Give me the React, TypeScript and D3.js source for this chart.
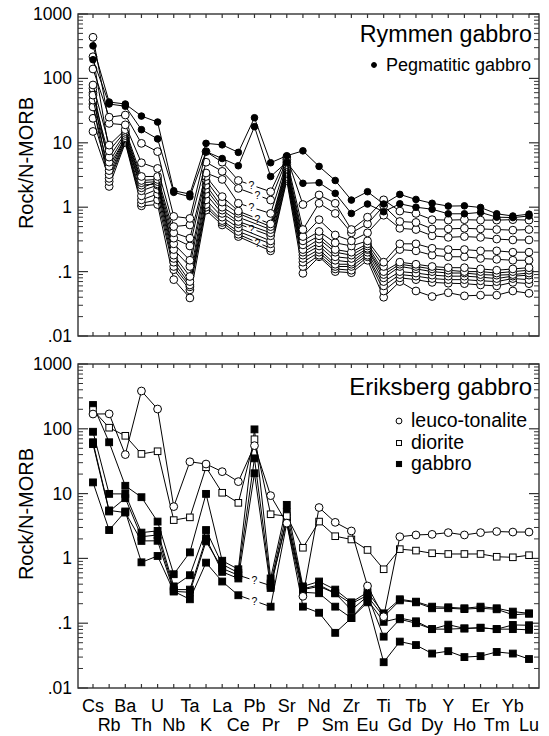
import React, { useEffect, useRef } from "react";
import * as d3 from "d3";

// element order along the x axis
const elements = ["Cs", "Rb", "Ba", "Th", "U", "Nb", "Ta", "K", "La", "Ce", "Pb", "Pr", "Sr", "P", "Nd", "Sm", "Zr", "Eu", "Ti", "Gd", "Tb", "Dy", "Y", "Ho", "Er", "Tm", "Yb", "Lu"];

const yTickValues = [0.01, 0.1, 1, 10, 100, 1000];
const yTickLabels = [".01", ".1", "1", "10", "100", "1000"];

// ---- Rymmen gabbro ----
const pegmatitic1 = [320, 43, 40, 26, 21, 1.8, 1.6, 9.8, 9.3, 7.1, 24.5, 4.9, 6.3, 7.5, 4.3, 2.6, 1.29, 1.74, 1.12, 1.58, 1.32, 1.15, 1.04, 1.05, 0.99, 0.79, 0.73, 0.78];
const pegmatitic2 = [195, 40, 37, 16, 11.5, 1.7, 1.45, 7.3, 5.7, 4.4, 17.8, 3.0, 5.0, 2.35, 2.4, 1.64, 0.8, 1.12, 0.85, 1.13, 1.0, 0.93, 0.79, 0.79, 0.83, 0.7, 0.69, 0.73];

const rymmen1 = [140, 25, 27, 9.8, 7.3, 0.72, 0.67, 7.3, 5.0, 2.6, null, 1.74, 6.0, 1.1, 1.55, 1.15, 0.45, 0.7, 1.3, 0.87, 0.8, 0.64, 0.63, 0.64, 0.63, 0.63, 0.64, 0.63];
const rymmen2 = [435, 20, 19, 4.9, 4.0, 0.5, 0.53, 5.0, 3.6, 1.96, null, 1.29, 5.5, 0.45, 1.15, 0.8, 0.4, 0.55, 1.05, 0.6, 0.58, 0.46, 0.46, 0.47, 0.46, 0.45, 0.44, 0.45];
const rymmen3 = [79, 9.2, 16, 3.0, 3.0, 0.4, 0.33, 3.4, 2.7, 1.15, null, 0.8, 5.0, 0.35, 0.64, 0.37, 0.3, 0.4, 0.75, 0.47, 0.45, 0.36, 0.34, 0.35, 0.34, 0.32, 0.31, 0.31];
const rymmen4 = [217, 7.5, 15, 2.6, 2.7, 0.33, 0.25, 3.0, 1.46, 0.87, null, 0.55, 4.6, 0.3, 0.42, 0.28, 0.25, 0.3, 0.14, 0.27, 0.27, 0.23, 0.22, 0.22, 0.21, 0.21, 0.2, 0.2];
const rymmen5 = [55, 6, 14, 2.4, 2.5, 0.27, 0.15, 2.6, 1.2, 0.8, null, 0.5, 4.3, 0.26, 0.36, 0.22, 0.2, 0.27, 0.12, 0.22, 0.21, 0.18, 0.17, 0.17, 0.16, 0.155, 0.15, 0.15];
const rymmen6 = [46, 5, 13, 2.2, 2.3, 0.22, 0.12, 2.2, 1.0, 0.7, null, 0.45, 4.0, 0.22, 0.32, 0.2, 0.18, 0.25, 0.1, 0.14, 0.13, 0.12, 0.115, 0.115, 0.11, 0.105, 0.11, 0.115];
const rymmen7 = [70, 4.3, 12, 2.0, 2.5, 0.18, 0.084, 1.9, 0.9, 0.6, null, 0.4, 3.8, 0.2, 0.28, 0.17, 0.16, 0.23, 0.09, 0.13, 0.12, 0.11, 0.105, 0.1, 0.1, 0.095, 0.1, 0.105];
const rymmen8 = [36, 3.7, 12, 1.8, 2.2, 0.16, 0.07, 1.6, 0.8, 0.55, null, 0.36, 3.5, 0.18, 0.25, 0.15, 0.14, 0.22, 0.08, 0.12, 0.11, 0.1, 0.095, 0.095, 0.09, 0.088, 0.09, 0.095];
const rymmen9 = [24, 3.2, 11.5, 1.5, 1.9, 0.14, 0.062, 1.3, 0.7, 0.48, null, 0.3, 3.3, 0.16, 0.22, 0.13, 0.13, 0.2, 0.07, 0.1, 0.095, 0.088, 0.085, 0.085, 0.082, 0.078, 0.085, 0.088];
const rymmen10 = [15, 2.8, 11, 1.3, 1.6, 0.12, 0.058, 1.1, 0.62, 0.42, null, 0.27, 3.0, 0.14, 0.2, 0.12, 0.12, 0.18, 0.06, 0.09, 0.085, 0.078, 0.075, 0.075, 0.072, 0.07, 0.078, 0.075];
const rymmen11 = [60, 2.5, 10.5, 1.15, 1.3, 0.107, 0.052, 1.0, 0.58, 0.38, null, 0.23, 2.8, 0.12, 0.18, 0.11, 0.105, 0.17, 0.05, 0.08, 0.075, 0.068, 0.066, 0.065, 0.062, 0.06, 0.068, 0.065];
const rymmen12 = [40, 2.1, 10, 1.05, 1.1, 0.075, 0.039, 0.9, 0.53, 0.35, null, 0.21, 2.6, 0.094, 0.17, 0.1, 0.096, 0.15, 0.04, 0.07, 0.05, 0.041, 0.047, 0.042, 0.043, 0.043, 0.05, 0.046];
// which Rymmen samples get a "?" where Pb is missing
const rymmenQuery = [true, true, true, true, false, false, false, true, false, false, true, false];

// ---- Eriksberg gabbro ----
const leucoTonalite = [169, 170, 40, 383, 202, 6.3, 31, 28.6, 21.8, 15.3, 55, 9.3, 3.5, 0.26, 6.1, 3.6, 2.65, 0.375, 0.126, 2.16, 2.3, 2.35, 2.5, 2.3, 2.5, 2.6, 2.55, 2.55];
const diorite = [195, 104, 78, 41, 45, 3.9, 4.3, 25.5, 10.3, 7.2, 69, 4.8, 4.5, 1.46, 3.7, 2.2, 1.96, 1.35, 0.68, 1.39, 1.32, 1.2, 1.17, 1.17, 1.17, 1.06, 1.04, 1.12];
const gabbro1 = [233, 62, 13.2, 8.8, 3.7, 0.57, 1.24, 9.9, 0.92, 0.68, 98, 0.49, 6.7, 0.37, 0.44, 0.33, 0.21, 0.3, 0.142, 0.234, 0.215, 0.18, 0.176, 0.17, 0.18, 0.17, 0.151, 0.142];
const gabbro2 = [90, 9.9, 9.9, 2.5, 2.66, 0.37, 0.55, 2.74, 0.81, 0.6, 35, 0.41, 5.2, 0.33, 0.37, 0.29, 0.16, 0.26, 0.126, 0.225, 0.21, 0.17, 0.17, 0.165, 0.17, 0.164, 0.135, 0.14];
const gabbro3 = [58, 5.3, 8.5, 2.16, 2.3, 0.33, 0.33, 2.04, 0.62, 0.49, 20.6, 0.35, 4.2, 0.3, 0.29, 0.18, 0.12, 0.23, 0.105, 0.12, 0.107, 0.081, 0.095, 0.083, 0.085, 0.081, 0.094, 0.093];
const gabbro4 = [62, 5.5, 5.1, 1.86, 1.87, 0.31, 0.3, 1.83, 0.7, 0.55, null, 0.38, 3.8, 0.34, 0.39, 0.29, 0.2, 0.27, 0.062, 0.115, 0.1, 0.081, 0.081, 0.083, 0.085, 0.081, 0.081, 0.079];
const gabbro5 = [14.9, 2.74, 5.3, 0.87, 1.09, 0.31, 0.234, 0.86, 0.44, 0.27, null, 0.18, 3.5, 0.18, 0.145, 0.071, 0.12, 0.21, 0.025, 0.052, 0.046, 0.034, 0.037, 0.03, 0.031, 0.036, 0.034, 0.028];

type Marker = "openCircle" | "filledCircle" | "openSquare" | "filledSquare";
type Series = { values: (number | null)[]; marker: Marker; query?: boolean; qShift?: number };

const FONT = "'Liberation Sans', Arial, Helvetica, sans-serif";
const LEFT = 78;
const RIGHT = 539;

function drawMarker(g: any, marker: Marker, cx: number, cy: number, size = 1) {
  if (marker === "openCircle" || marker === "filledCircle") {
    const filled = marker === "filledCircle";
    g.append("circle")
      .attr("cx", cx)
      .attr("cy", cy)
      .attr("r", (filled ? 3.3 : 3.9) * size)
      .attr("fill", filled ? "#000" : "#fff")
      .attr("stroke", "#000")
      .attr("stroke-width", 1);
  } else {
    const filled = marker === "filledSquare";
    const s = (filled ? 6.8 : 6.6) * size;
    g.append("rect")
      .attr("x", cx - s / 2)
      .attr("y", cy - s / 2)
      .attr("width", s)
      .attr("height", s)
      .attr("fill", filled ? "#000" : "#fff")
      .attr("stroke", "#000")
      .attr("stroke-width", 1);
  }
}

function drawPanel(svg: any, cfg: any) {
  const { y0, y1, series, title, titleSize, titleY, legend } = cfg;
  const x = d3.scalePoint<string>().domain(elements).range([93, 529]);
  const y = d3.scaleLog().domain([0.01, 1000]).range([y1, y0]);
  const g = svg.append("g");

  // frame
  g.append("rect")
    .attr("x", LEFT)
    .attr("y", y0)
    .attr("width", RIGHT - LEFT)
    .attr("height", y1 - y0)
    .attr("fill", "none")
    .attr("stroke", "#333")
    .attr("stroke-width", 1.4);

  // x ticks (inward, top and bottom)
  elements.forEach(e => {
    g.append("line").attr("x1", x(e)).attr("x2", x(e)).attr("y1", y0).attr("y2", y0 + 4).attr("stroke", "#333").attr("stroke-width", 1.2);
    g.append("line").attr("x1", x(e)).attr("x2", x(e)).attr("y1", y1).attr("y2", y1 - 4).attr("stroke", "#333").attr("stroke-width", 1.2);
  });

  // y ticks, major at decades, minor at 2..9
  yTickValues.forEach((d, i) => {
    const ty = y(d);
    g.append("line").attr("x1", LEFT).attr("x2", LEFT + 10).attr("y1", ty).attr("y2", ty).attr("stroke", "#333").attr("stroke-width", 1.2);
    g.append("line").attr("x1", RIGHT).attr("x2", RIGHT - 10).attr("y1", ty).attr("y2", ty).attr("stroke", "#333").attr("stroke-width", 1.2);
    g.append("text")
      .attr("x", 72)
      .attr("y", ty + 6)
      .attr("text-anchor", "end")
      .attr("font-family", FONT)
      .attr("font-size", 17.5)
      .text(yTickLabels[i]);
    if (d < 1000) {
      for (let k = 2; k <= 9; k++) {
        const my = y(d * k);
        g.append("line").attr("x1", LEFT).attr("x2", LEFT + 5).attr("y1", my).attr("y2", my).attr("stroke", "#333").attr("stroke-width", 1);
        g.append("line").attr("x1", RIGHT).attr("x2", RIGHT - 5).attr("y1", my).attr("y2", my).attr("stroke", "#333").attr("stroke-width", 1);
      }
    }
  });

  // y axis title
  const cy = (y0 + y1) / 2 - 12;
  g.append("text")
    .attr("transform", `translate(33,${cy}) rotate(-90)`)
    .attr("text-anchor", "middle")
    .attr("font-family", FONT)
    .attr("font-size", 20)
    .text("Rock/N-MORB");

  // series
  const line = d3.line<[number, number]>();
  series.forEach((s: Series) => {
    const pts: [number, number][] = [];
    s.values.forEach((v, i) => {
      if (v != null) pts.push([x(elements[i]) as number, y(v)]);
    });
    const gapIdx = s.values.findIndex(v => v == null);
    if (s.query && gapIdx > 0) {
      const a: [number, number] = [x(elements[gapIdx - 1]) as number, y(s.values[gapIdx - 1] as number)];
      const b: [number, number] = [x(elements[gapIdx + 1]) as number, y(s.values[gapIdx + 1] as number)];
      const xm = (x(elements[gapIdx]) as number) + (s.qShift || 0);
      const at = (xx: number): [number, number] => [xx, a[1] + ((b[1] - a[1]) * (xx - a[0])) / (b[0] - a[0])];
      const before = pts.filter(p => p[0] <= a[0]);
      const after = pts.filter(p => p[0] >= b[0]);
      g.append("path").attr("d", line([...before, at(xm - 5)])).attr("fill", "none").attr("stroke", "#000").attr("stroke-width", 1);
      g.append("path").attr("d", line([at(xm + 5), ...after])).attr("fill", "none").attr("stroke", "#000").attr("stroke-width", 1);
      g.append("text")
        .attr("x", xm)
        .attr("y", at(xm)[1] + 4)
        .attr("text-anchor", "middle")
        .attr("font-family", FONT)
        .attr("font-size", 10.5)
        .text("?");
    } else {
      g.append("path").attr("d", line(pts)).attr("fill", "none").attr("stroke", "#000").attr("stroke-width", 1);
    }
    pts.forEach(p => drawMarker(g, s.marker, p[0], p[1]));
  });

  // title
  g.append("text")
    .attr("x", 532)
    .attr("y", titleY)
    .attr("text-anchor", "end")
    .attr("font-family", FONT)
    .attr("font-size", titleSize)
    .text(title);

  // legend
  legend.forEach((l: any) => {
    drawMarker(g, l.marker, l.mx, l.y - 6, 0.75);
    g.append("text")
      .attr("x", l.mx + 12)
      .attr("y", l.y)
      .attr("font-family", FONT)
      .attr("font-size", l.size)
      .text(l.label);
  });

  return x;
}

export default function App() {
  const ref = useRef<SVGSVGElement>(null);

  useEffect(() => {
    const svg = d3.select(ref.current);
    svg.selectAll("*").remove();

    const rymmenOpen = [rymmen1, rymmen2, rymmen3, rymmen4, rymmen5, rymmen6, rymmen7, rymmen8, rymmen9, rymmen10, rymmen11, rymmen12];
    let qCount = 0;
    const openSeries: Series[] = rymmenOpen.map((v, i) => {
      const s: Series = { values: v, marker: "openCircle", query: rymmenQuery[i] };
      if (rymmenQuery[i]) {
        // stagger the "?" marks so neighbours do not collide
        s.qShift = qCount % 2 === 0 ? -3 : 3;
        qCount++;
      }
      return s;
    });
    const topSeries: Series[] = [
      ...openSeries.reverse(),
      { values: pegmatitic2, marker: "filledCircle" },
      { values: pegmatitic1, marker: "filledCircle" }
    ];

    drawPanel(svg, {
      y0: 14,
      y1: 336,
      series: topSeries,
      title: "Rymmen gabbro",
      titleSize: 23.3,
      titleY: 42,
      legend: [{ marker: "filledCircle", mx: 374, y: 71, label: "Pegmatitic gabbro", size: 18 }]
    });

    const bottomSeries: Series[] = [
      { values: gabbro5, marker: "filledSquare", query: true },
      { values: gabbro4, marker: "filledSquare", query: true },
      { values: gabbro3, marker: "filledSquare" },
      { values: gabbro2, marker: "filledSquare" },
      { values: gabbro1, marker: "filledSquare" },
      { values: diorite, marker: "openSquare" },
      { values: leucoTonalite, marker: "openCircle" }
    ];

    const x = drawPanel(svg, {
      y0: 364,
      y1: 688,
      series: bottomSeries,
      title: "Eriksberg gabbro",
      titleSize: 24,
      titleY: 395,
      legend: [
        { marker: "openCircle", mx: 399, y: 427, label: "leuco-tonalite", size: 19.5 },
        { marker: "openSquare", mx: 399, y: 449, label: "diorite", size: 19.5 },
        { marker: "filledSquare", mx: 399, y: 470, label: "gabbro", size: 19.5 }
      ]
    });

    // element labels in two staggered rows
    svg
      .append("g")
      .selectAll("text")
      .data(elements)
      .join("text")
      .attr("x", d => x(d) as number)
      .attr("y", (d, i) => (i % 2 === 0 ? 712 : 731))
      .attr("text-anchor", "middle")
      .attr("font-family", FONT)
      .attr("font-size", 18)
      .text(d => d);
  }, []);

  return (
    <svg
      ref={ref}
      width={549}
      height={736}
      style={{ position: "absolute", left: 0, top: 0, background: "#fff" }}
    ></svg>
  );
}
